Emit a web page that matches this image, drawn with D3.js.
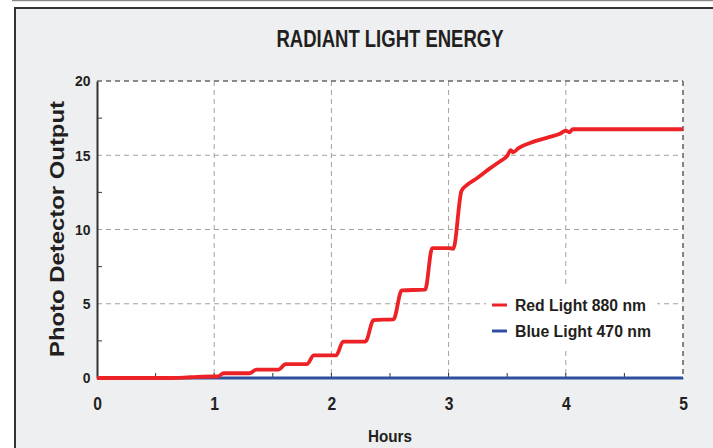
<!DOCTYPE html>
<html>
<head>
<meta charset="utf-8">
<script src="https://cdn.jsdelivr.net/npm/d3@7"></script>
<style>
  html, body { margin: 0; padding: 0; background: #fff; }
  svg { display: block; }
  text { font-family: "Liberation Sans", Arial, sans-serif; font-weight: bold; fill: #231f20; }
</style>
</head>
<body>
<div id="chart"></div>
<script>
const hours = [0, 0.6, 0.8, 0.98, 1.03, 1.08, 1.3, 1.36, 1.55, 1.61, 1.79, 1.85, 2.04, 2.1, 2.29, 2.36, 2.53, 2.6, 2.8, 2.86, 3.0, 3.04, 3.11, 3.15, 3.25, 3.35, 3.44, 3.5, 3.53, 3.55, 3.6, 3.72, 3.85, 3.95, 4.0, 4.03, 4.06, 5.0];
const redValues = [0, 0, 0.05, 0.1, 0.1, 0.32, 0.32, 0.57, 0.57, 0.93, 0.93, 1.52, 1.52, 2.45, 2.45, 3.9, 3.95, 5.9, 5.95, 8.75, 8.75, 8.7, 12.6, 12.95, 13.5, 14.1, 14.6, 14.95, 15.35, 15.2, 15.5, 15.9, 16.2, 16.45, 16.65, 16.55, 16.75, 16.75];
const blueHours = [0, 5];
const blueValues = [0, 0];
const xTicks = [0, 1, 2, 3, 4, 5];
const yTicks = [0, 5, 10, 15, 20];
const series = [
  { name: "Red Light 880 nm", color: "#ec2227", x: hours, y: redValues, width: 131 },
  { name: "Blue Light 470 nm", color: "#2f4f9f", x: blueHours, y: blueValues, width: 136 }
];

const width = 713, height = 448;
const plot = { left: 97, right: 683, top: 81, bottom: 378 };

const svg = d3.select("#chart").append("svg").attr("width", width).attr("height", height);

// frame
svg.append("rect").attr("x", 0).attr("y", 0).attr("width", width).attr("height", height).attr("fill", "#fff");
svg.append("line").attr("x1", 12).attr("x2", width).attr("y1", 0.5).attr("y2", 0.5).attr("stroke", "#8a8a8a").attr("stroke-width", 1.5);
svg.append("rect").attr("x", 15).attr("y", 8).attr("width", width).attr("height", height)
  .attr("fill", "#eeeff1").attr("stroke", "#333").attr("stroke-width", 2);

const x = d3.scaleLinear().domain([0, 5]).range([plot.left, plot.right]);
const y = d3.scaleLinear().domain([0, 20]).range([plot.bottom, plot.top]);

svg.append("rect").attr("x", plot.left).attr("y", plot.top)
  .attr("width", plot.right - plot.left).attr("height", plot.bottom - plot.top).attr("fill", "#fff");

// grid (last ones are the dashed top/right border)
const grid = svg.append("g").attr("stroke-dasharray", "5,4");
grid.selectAll("line.gx").data(xTicks.slice(1)).join("line").attr("class", "gx")
  .attr("x1", (d) => x(d)).attr("x2", (d) => x(d)).attr("y1", plot.top).attr("y2", plot.bottom)
  .attr("stroke", (d) => d === 5 ? "#666" : "#a0a0a0").attr("stroke-width", (d) => d === 5 ? 1.6 : 1);
grid.selectAll("line.gy").data(yTicks.slice(1)).join("line").attr("class", "gy")
  .attr("x1", plot.left).attr("x2", plot.right).attr("y1", (d) => y(d)).attr("y2", (d) => y(d))
  .attr("stroke", (d) => d === 20 ? "#666" : "#a0a0a0").attr("stroke-width", (d) => d === 20 ? 1.6 : 1);

// left axis
const yAxis = d3.axisLeft(y).tickValues(yTicks).tickSize(0).tickPadding(7);
const gy = svg.append("g").attr("transform", `translate(${plot.left},0)`).call(yAxis);
gy.select(".domain").attr("stroke", "#333").attr("stroke-width", 2);
gy.selectAll("text").style("font-size", "15px").attr("transform", "scale(0.93,1)");
svg.append("g").selectAll("line").data([2.5, 7.5, 12.5, 17.5]).join("line")
  .attr("x1", plot.left).attr("x2", plot.left + 5).attr("y1", (d) => y(d)).attr("y2", (d) => y(d))
  .attr("stroke", "#333").attr("stroke-width", 1);

// bottom axis
const xAxis = d3.axisBottom(x).tickValues(xTicks).tickSize(0).tickPadding(19).tickFormat(d3.format("d"));
const gx = svg.append("g").attr("transform", `translate(0,${plot.bottom})`).call(xAxis);
gx.select(".domain").attr("stroke", "#333").attr("stroke-width", 1);
gx.selectAll("text").style("font-size", "18px").attr("transform", "scale(0.87,1)");
svg.append("g").selectAll("line").data([0.5, 1, 1.5, 2, 2.5, 3, 3.5, 4, 4.5]).join("line")
  .attr("x1", (d) => x(d)).attr("x2", (d) => x(d)).attr("y1", plot.bottom).attr("y2", plot.bottom - 5)
  .attr("stroke", "#333").attr("stroke-width", 1);

// legend box covering grid
svg.append("rect").attr("x", 486).attr("y", 287).attr("width", 171).attr("height", 60).attr("fill", "#fff");

// lines
const line = d3.line().curve(d3.curveMonotoneX);
svg.append("g").selectAll("path").data(series.slice().reverse()).join("path")
  .attr("d", (s) => line(s.x.map((v, i) => [x(v), y(s.y[i])])))
  .attr("fill", "none").attr("stroke", (s) => s.color)
  .attr("stroke-width", (s) => s.name.startsWith("Red") ? 3.8 : 3)
  .attr("stroke-linejoin", "round");

// legend
const legend = svg.append("g").selectAll("g").data(series).join("g")
  .attr("transform", (d, i) => `translate(492,${305 + i * 26})`);
legend.append("line").attr("x1", 0).attr("x2", 15).attr("stroke", (d) => d.color).attr("stroke-width", 3);
legend.append("text").attr("x", 23).attr("dy", "0.36em").style("font-size", "16px")
  .attr("textLength", (d) => d.width).attr("lengthAdjust", "spacingAndGlyphs").text((d) => d.name);

// titles
svg.append("text").attr("x", 390).attr("y", 47).attr("text-anchor", "middle").style("font-size", "23px")
  .attr("textLength", 227).attr("lengthAdjust", "spacingAndGlyphs").text("RADIANT LIGHT ENERGY");
svg.append("text").attr("x", 390).attr("y", 442).attr("text-anchor", "middle").style("font-size", "17px")
  .attr("textLength", 44).attr("lengthAdjust", "spacingAndGlyphs").text("Hours");
svg.append("text").attr("transform", `translate(64,229) rotate(-90)`)
  .attr("text-anchor", "middle").style("font-size", "20px")
  .attr("textLength", 256).attr("lengthAdjust", "spacingAndGlyphs").text("Photo Detector Output");
</script>
</body>
</html>
